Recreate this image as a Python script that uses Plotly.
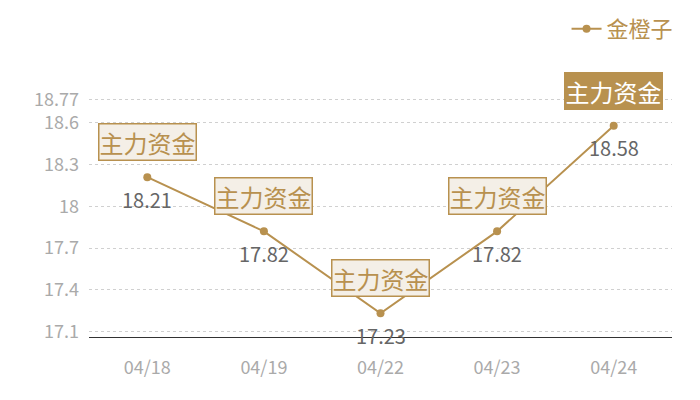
import plotly.graph_objects as go

dates = ["04/18", "04/19", "04/22", "04/23", "04/24"]
values = [18.21, 17.82, 17.23, 17.82, 18.58]
series_name = "金橙子"
tag_text = "主力资金"
y_tickvals = [17.1, 17.4, 17.7, 18, 18.3, 18.6, 18.77]
y_ticktext = ["17.1", "17.4", "17.7", "18", "18.3", "18.6", "18.77"]

GOLD = "#b8914f"
FONT = "Noto Sans CJK SC"

fig = go.Figure()
fig.add_trace(go.Scatter(
    x=dates, y=values, name=series_name, mode="lines+markers",
    line=dict(color=GOLD, width=2),
    marker=dict(color=GOLD, size=8),
    showlegend=True,
))

annotations = []
for i, (d, v) in enumerate(zip(dates, values)):
    last = i == len(dates) - 1
    annotations.append(dict(
        x=d, y=v, xref="x", yref="y", text=tag_text, showarrow=False,
        yshift=35,
        font=dict(family=FONT, size=24, color="#ffffff" if last else GOLD),
        bgcolor=GOLD if last else "#f4efe7",
        bordercolor=GOLD,
        borderwidth=1.5, borderpad=0,
    ))
    annotations.append(dict(
        x=d, y=v, xref="x", yref="y", text=f"{v:.2f}", showarrow=False,
        yshift=-22,
        font=dict(family=FONT, size=20, color="#666666"),
    ))

fig.update_layout(
    width=692, height=392,
    margin=dict(l=81, r=28, t=72, b=63, autoexpand=False),
    paper_bgcolor="white", plot_bgcolor="white",
    font=dict(family=FONT),
    annotations=annotations,
    legend=dict(
        xref="container", yref="container",
        x=0.969, y=1.025, xanchor="right", yanchor="top",
        font=dict(family=FONT, size=22, color=GOLD),
        bgcolor="rgba(0,0,0,0)", itemwidth=30,
    ),
    xaxis=dict(
        type="category", range=[-0.5, 4.5], automargin=False,
        showgrid=False, showline=True, linecolor="#333333", linewidth=1,
        ticks="", tickfont=dict(family=FONT, size=18, color="#aaaaaa"),
        ticklabelstandoff=14,
    ),
    yaxis=dict(
        range=[17.06, 18.909], automargin=False,
        tickvals=y_tickvals, ticktext=y_ticktext,
        showgrid=True, gridcolor="#d0d0d0", griddash="3px,3px", gridwidth=1,
        zeroline=False, showline=False, ticks="",
        tickfont=dict(family=FONT, size=18, color="#aaaaaa"),
        ticklabelstandoff=9,
    ),
)

fig.write_html("out.html")
